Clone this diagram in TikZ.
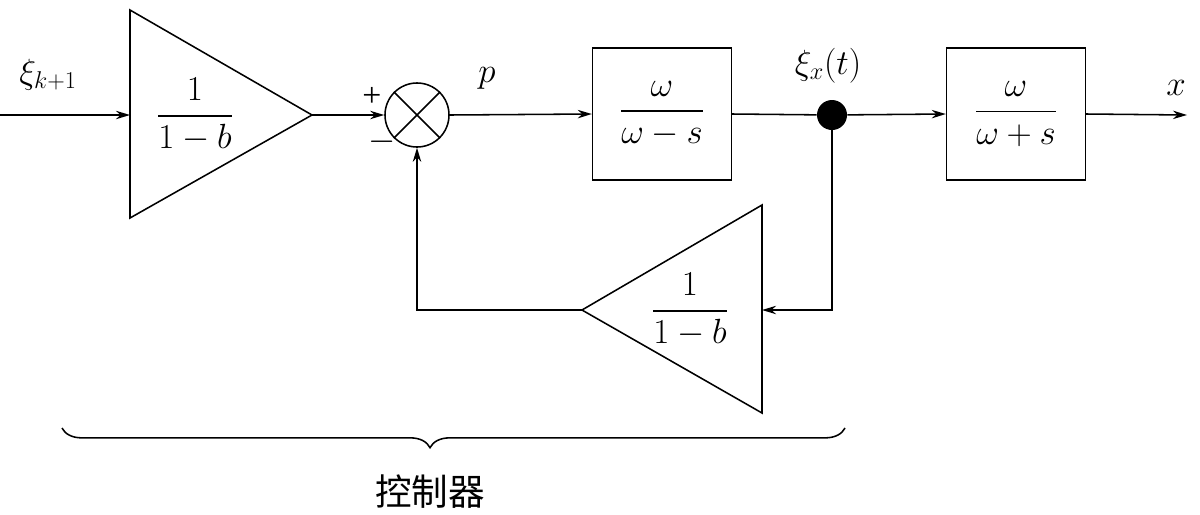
\documentclass[tikz,border=0pt]{standalone}
\usepackage{amsmath}
\usepackage{fontspec}
\setmainfont{Liberation Serif}
\newfontfamily\cjk{Noto Sans CJK SC}
\usetikzlibrary{arrows.meta,decorations.pathreplacing}
\begin{document}
\begin{tikzpicture}[x=0.025cm,y=-0.025cm,
  ln/.style={line width=1.1pt},
  arr/.style={ln,-{Stealth[length=10pt,width=6pt]}},
  blk/.style={draw,line width=1.1pt,minimum width=3.47cm,minimum height=3.3cm,inner sep=0},
  lbl/.style={font=\fontsize{24}{28}\selectfont}]
\useasboundingbox (0,0) rectangle (1200,514);
% triangle 1
\draw[ln] (130,10) -- (312,115) -- (130,218) -- cycle;
\coordinate (t1in) at (130,115);
\coordinate (t1out) at (312,115);
\node[lbl] (t1txt) at (195,115) {$\dfrac{1}{1-b}$};
\coordinate (in) at (0,115);
\draw[arr] (in) -- (t1in);
\node[lbl] (xik) at (48,75) {$\xi_{k+1}$};
% sum
\node[draw,circle,line width=1.1pt,minimum size=1.6cm,inner sep=0] (sum) at (417,115) {};
\draw[ln] (sum.north west) -- (sum.south east) (sum.north east) -- (sum.south west);
\draw[arr] (t1out) -- (sum.west);
\node[lbl] (plus) at (372,97) {+};
\node[lbl] (minus) at (382,142) {$-$};
% box1
\node[blk] (b1) at (662,114) {};
\node[lbl] (b1t) at (662,114) {$\dfrac{\omega}{\omega-s}$};
\draw[arr] (sum.east) -- (b1.west);
\node[lbl] (p) at (487,78) {$p$};
% dot
\node[circle,fill,inner sep=0,minimum size=0.75cm] (dot) at (832,115) {};
\draw[ln] (b1.east) -- (dot);
\node[lbl] (xix) at (828,66) {$\xi_x(t)$};
% box2
\node[blk] (b2) at (1016,114) {};
\node[lbl] (b2t) at (1016,114) {$\dfrac{\omega}{\omega+s}$};
\draw[arr] (dot) -- (b2.west);
\coordinate (out) at (1187,115);
\draw[arr] (b2.east) -- (out);
\node[lbl] (x) at (1176,88) {$x$};
% triangle 2
\draw[ln] (762,205) -- (582,310) -- (762,413) -- cycle;
\coordinate (t2in) at (762,310);
\coordinate (t2out) at (582,310);
\node[lbl] (t2txt) at (690,310) {$\dfrac{1}{1-b}$};
\draw[arr] (dot) |- (t2in);
\draw[arr] (t2out) -| (sum.south);
% brace
\coordinate (bl) at (62,428);
\coordinate (br) at (845,428);
\draw[ln,decorate,decoration={brace,mirror,amplitude=14pt,aspect=0.47}] (bl) -- (br);
\node[font=\cjk\fontsize{26}{30}\selectfont] (ctl) at (430,492) {控制器};
\end{tikzpicture}
\end{document}
